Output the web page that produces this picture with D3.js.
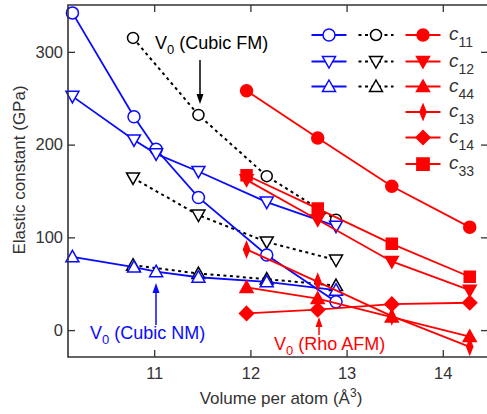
<!DOCTYPE html>
<html>
<head>
<meta charset="utf-8">
<script src="https://cdn.jsdelivr.net/npm/d3@7"></script>
<style>
  body { margin: 0; background: #fff; }
  text { font-family: "Liberation Sans", Arial, Helvetica, sans-serif; }
</style>
</head>
<body>
<div id="chart"></div>
<script>
// cubic NM (blue, solid)
var volNM = [10.15, 10.79, 11.02, 11.46, 12.17, 12.89];
var nmC11 = [342, 230, 195, 143, 81, 30.5];
var nmC12 = [252, 205, 190, 171, 138, 112];
var nmC44 = [79, 68, 63, 57, 52, 43];

// cubic FM (black, dotted)
var volFM = [10.78, 11.46, 12.17, 12.89];
var fmC11 = [315, 232, 166, 119];
var fmC12 = [164, 124, 95, 75.5];
var fmC44 = [70, 61, 55, 48];

// rhombohedral AFM (red)
var volAFM = [11.96, 12.70, 13.47, 14.28];
var afmC11 = [258, 207, 155, 111];
var afmC12 = [162, 119, 74, 43];
var afmC44 = [46, 34, 14, -7];
var afmC13 = [87, 52, 15, -18];
var afmC14 = [18, 22, 28, 29.5];
var afmC33 = [167, 131, 93, 57.5];

var xTicks = [11, 12, 13, 14];
var yTicks = [0, 100, 200, 300];
var legendNames = ["11", "12", "44", "13", "14", "33"];

var width = 487, height = 414;
var pLeft = 68, pRight = 488, pTop = 5, pBottom = 357;
var axisColor = "#333";
var blue = "#0a0aff", red = "#ff0000";

var svg = d3.select("#chart").append("svg")
    .attr("width", width)
    .attr("height", height);

var x = d3.scaleLinear().domain([10.104, 14.47]).range([pLeft, pRight]);
var y = d3.scaleLinear().domain([-29, 350.5]).range([pBottom, pTop]);

//marker shapes
function shape(type) {
    if (type == "circle") return "M6,0A6,6 0 1 1 -6,0A6,6 0 1 1 6,0Z";
    if (type == "circleS") return "M5.5,0A5.5,5.5 0 1 1 -5.5,0A5.5,5.5 0 1 1 5.5,0Z";
    if (type == "up") return "M0,-6.5L6.5,5L-6.5,5Z";
    if (type == "down") return "M0,6.5L6.5,-5L-6.5,-5Z";
    if (type == "thin") return "M0,-7.5L3,0L0,7.5L-3,0Z";
    if (type == "diamond") return "M0,-7L7,0L0,7L-7,0Z";
    if (type == "square") return "M-5.5,-5.5h11v11h-11Z";
}

var series = [
    {xs: volFM, ys: fmC11, color: "#000", shape: "circleS", fill: "#fff", dash: "3,3.5"},
    {xs: volFM, ys: fmC12, color: "#000", shape: "down", fill: "#fff", dash: "3,3.5"},
    {xs: volFM, ys: fmC44, color: "#000", shape: "up", fill: "#fff", dash: "3,3.5"},
    {xs: volNM, ys: nmC11, color: blue, shape: "circle", fill: "#fff"},
    {xs: volNM, ys: nmC12, color: blue, shape: "down", fill: "#fff"},
    {xs: volNM, ys: nmC44, color: blue, shape: "up", fill: "#fff"},
    {xs: volAFM, ys: afmC11, color: red, shape: "circle", fill: red},
    {xs: volAFM, ys: afmC12, color: red, shape: "down", fill: red},
    {xs: volAFM, ys: afmC44, color: red, shape: "up", fill: red},
    {xs: volAFM, ys: afmC13, color: red, shape: "thin", fill: red},
    {xs: volAFM, ys: afmC14, color: red, shape: "diamond", fill: red},
    {xs: volAFM, ys: afmC33, color: red, shape: "square", fill: red}
];

var line = d3.line()
    .x(function(d) { return x(d[0]) })
    .y(function(d) { return y(d[1]) });

//lines then markers for each series
series.forEach(function(s) {
    var pts = s.xs.map(function(v, i) { return [v, s.ys[i]] });
    svg.append("path")
        .attr("d", line(pts))
        .attr("fill", "none")
        .attr("stroke", s.color)
        .attr("stroke-width", s.dash ? 2 : 1.8)
        .attr("stroke-dasharray", s.dash || null);
    svg.selectAll(null)
        .data(pts)
        .enter().append("path")
        .attr("d", shape(s.shape))
        .attr("transform", function(d) { return "translate(" + x(d[0]) + "," + y(d[1]) + ")" })
        .attr("fill", s.fill)
        .attr("stroke", s.color)
        .attr("stroke-width", 1.5);
});

//axes with inward ticks
function styleAxis(g) {
    g.select(".domain").remove();
    g.selectAll("line").attr("stroke", axisColor).attr("stroke-width", 1.3);
    g.selectAll("text").attr("fill", axisColor).style("font-size", "16.5px")
        .style("font-family", "'Liberation Sans', Arial, sans-serif");
}

svg.append("g").attr("transform", "translate(0," + pBottom + ")")
    .call(d3.axisBottom(x).tickValues(xTicks).tickSizeInner(-7).tickSizeOuter(0).tickPadding(10).tickFormat(d3.format("d")))
    .call(styleAxis);
svg.append("g").attr("transform", "translate(0," + pTop + ")")
    .call(d3.axisTop(x).tickValues(xTicks).tickSizeInner(-7).tickSizeOuter(0).tickFormat(""))
    .call(styleAxis);
svg.append("g").attr("transform", "translate(" + pLeft + ",0)")
    .call(d3.axisLeft(y).tickValues(yTicks).tickSizeInner(-7).tickSizeOuter(0).tickPadding(5))
    .call(styleAxis);
svg.append("g").attr("transform", "translate(" + pRight + ",0)")
    .call(d3.axisRight(y).tickValues(yTicks).tickSizeInner(-7).tickSizeOuter(0).tickFormat(""))
    .call(styleAxis);

//frame
svg.append("path")
    .attr("d", "M" + pRight + "," + pTop + "H" + pLeft + "V" + pBottom + "H" + pRight)
    .attr("fill", "none")
    .attr("stroke", axisColor)
    .attr("stroke-width", 1.6);

//axis titles
var xt = svg.append("text")
    .attr("x", 281).attr("y", 404)
    .attr("text-anchor", "middle")
    .attr("fill", axisColor)
    .style("font-size", "17px");
xt.append("tspan").text("Volume per atom (Å");
xt.append("tspan").attr("dy", -7).style("font-size", "12px").text("3");
xt.append("tspan").attr("dy", 7).text(")");

svg.append("text")
    .attr("transform", "translate(25,170) rotate(-90)")
    .attr("text-anchor", "middle")
    .attr("fill", axisColor)
    .style("font-size", "17px")
    .text("Elastic constant (GPa)");

//legend
var rowY = [35, 61.5, 86.5, 112, 137.5, 164];
var legCols = [
    {cx: 329, color: blue, fill: "#fff", shapes: ["circle", "down", "up"]},
    {cx: 376, color: "#000", fill: "#fff", shapes: ["circleS", "down", "up"], dash: "3,3.5"},
    {cx: 423, color: red, fill: red, shapes: ["circle", "down", "up", "thin", "diamond", "square"]}
];
legCols.forEach(function(c) {
    c.shapes.forEach(function(sh, i) {
        svg.append("line")
            .attr("x1", c.cx - 17.5).attr("x2", c.cx + 17.5)
            .attr("y1", rowY[i]).attr("y2", rowY[i])
            .attr("stroke", c.color)
            .attr("stroke-width", 2)
            .attr("stroke-dasharray", c.dash || null);
        svg.append("path")
            .attr("d", shape(sh))
            .attr("transform", "translate(" + c.cx + "," + rowY[i] + ")" + (sh == "square" ? " scale(1.1)" : ""))
            .attr("fill", c.fill)
            .attr("stroke", c.color)
            .attr("stroke-width", 1.5);
    });
});
legendNames.forEach(function(n, i) {
    var t = svg.append("text")
        .attr("x", 449).attr("y", rowY[i] + 5)
        .attr("fill", axisColor)
        .style("font-size", "19px");
    t.append("tspan").style("font-style", "italic").text("c");
    t.append("tspan").attr("dy", 7).style("font-size", "14px").text(n);
});

//V0 annotations with arrows
function annotate(tx, ty, label, color, ax, y1, y2) {
    var t = svg.append("text")
        .attr("x", tx).attr("y", ty)
        .attr("fill", color)
        .style("font-size", "18px");
    t.append("tspan").text("V");
    t.append("tspan").attr("dy", 5).style("font-size", "13px").text("0");
    t.append("tspan").attr("dy", -5).text(" " + label);
    var dir = y2 > y1 ? 1 : -1;
    svg.append("line")
        .attr("x1", ax).attr("x2", ax)
        .attr("y1", y1).attr("y2", y2 - dir * 8)
        .attr("stroke", color).attr("stroke-width", 1.5);
    svg.append("path")
        .attr("d", "M" + (ax - 3.5) + "," + (y2 - dir * 10) + "L" + ax + "," + y2 + "L" + (ax + 3.5) + "," + (y2 - dir * 10) + "Z")
        .attr("fill", color);
}
annotate(155, 49, "(Cubic FM)", "#000", 200, 60, 104);
annotate(90, 339, "(Cubic NM)", blue, 156, 325, 283);
annotate(274, 350, "(Rho AFM)", red, 319, 335, 317);
</script>
</body>
</html>
